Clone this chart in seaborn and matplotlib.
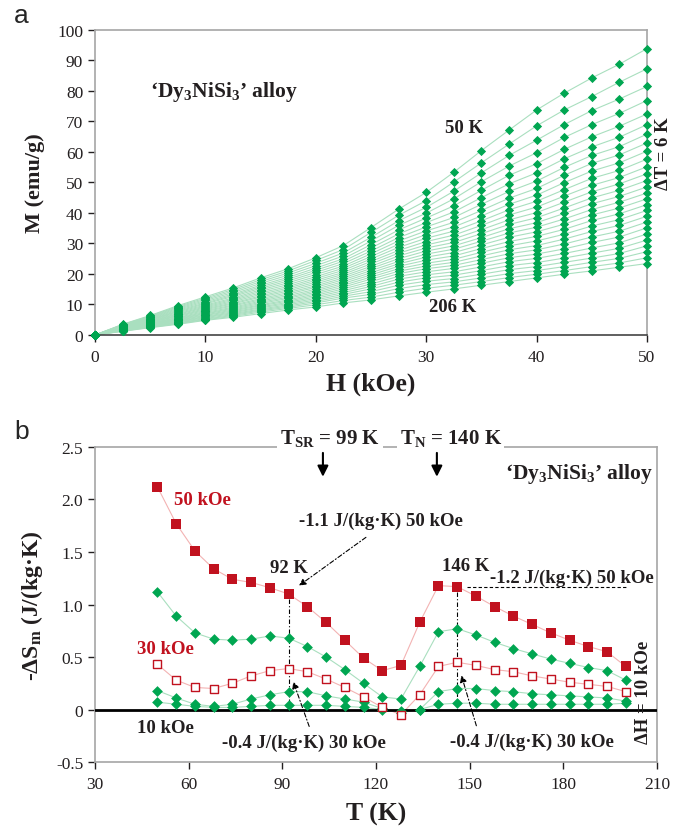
import pandas as pd
import matplotlib
matplotlib.use('Agg')
import matplotlib.pyplot as plt
import seaborn as sns

# (a) M(H) isotherms, 50 K (top) ... 206 K (bottom), step 6 K
field_koe = [0, 2.5, 5, 7.5, 10, 12.5, 15, 17.5, 20, 22.5, 25,
             27.5, 30, 32.5, 35, 37.5, 40, 42.5, 45, 47.5, 50]
temps_k = [50, 56, 62, 68, 74, 80, 86, 92, 98, 104, 110, 116, 122, 128,
           134, 140, 146, 152, 158, 164, 170, 176, 182, 188, 194, 200, 206]

# one list per field value, 27 isotherms ordered 50 K -> 206 K
m_columns = [
    [0] * 27,
    [3.5, 3.4, 3.3, 3.2, 3.1, 3.0, 2.9, 2.8, 2.7, 2.6, 2.5, 2.4, 2.3, 2.2,
     2.1, 2.0, 1.9, 1.8, 1.8, 1.7, 1.6, 1.5, 1.5, 1.4, 1.3, 1.3, 1.2],
    [6.4, 6.2, 6.0, 5.8, 5.6, 5.4, 5.2, 5.0, 4.9, 4.7, 4.5, 4.4, 4.2, 4.1,
     3.9, 3.8, 3.6, 3.5, 3.4, 3.3, 3.2, 3.0, 2.9, 2.8, 2.7, 2.5, 2.4],
    [9.6, 9.3, 9.0, 8.7, 8.4, 8.1, 7.8, 7.6, 7.3, 7.0, 6.8, 6.5, 6.3, 6.1,
     5.8, 5.6, 5.4, 5.2, 5.0, 4.8, 4.6, 4.4, 4.2, 4.0, 3.9, 3.7, 3.5],
    [12.5, 12.1, 11.7, 11.3, 10.9, 10.5, 10.2, 9.8, 9.5, 9.2, 8.9, 8.6, 8.3,
     8.0, 7.7, 7.4, 7.1, 6.9, 6.6, 6.4, 6.1, 5.9, 5.7, 5.4, 5.2, 5.0, 4.8],
    [15.4, 14.9, 14.4, 13.9, 13.4, 13.0, 12.6, 12.1, 11.7, 11.3, 10.9, 10.5,
     10.2, 9.8, 9.5, 9.1, 8.8, 8.5, 8.2, 7.9, 7.6, 7.3, 7.0, 6.7, 6.4, 6.1, 5.8],
    [18.7, 18.1, 17.5, 16.9, 16.3, 15.8, 15.3, 14.8, 14.3, 13.8, 13.3, 12.8,
     12.4, 11.9, 11.5, 11.1, 10.7, 10.3, 9.9, 9.6, 9.2, 8.9, 8.5, 8.2, 7.9, 7.5, 7.0],
    [21.7, 21.0, 20.3, 19.6, 18.9, 18.3, 17.7, 17.1, 16.5, 15.9, 15.4, 14.9,
     14.4, 13.9, 13.4, 12.9, 12.4, 12.0, 11.5, 11.1, 10.7, 10.3, 9.9, 9.5, 9.1, 8.7, 8.2],
    [25.3, 24.4, 23.5, 22.7, 21.9, 21.2, 20.5, 19.8, 19.1, 18.5, 17.9, 17.3,
     16.7, 16.1, 15.6, 15.0, 14.5, 14.0, 13.5, 13.0, 12.5, 12.0, 11.5, 11.0, 10.5, 9.9, 9.2],
    [29.3, 28.0, 26.9, 25.9, 25.0, 24.2, 23.4, 22.6, 21.9, 21.2, 20.5, 19.9,
     19.3, 18.7, 18.1, 17.5, 16.9, 16.3, 15.7, 15.1, 14.5, 13.9, 13.3, 12.7, 12.1, 11.3, 10.5],
    [35.2, 33.6, 32.0, 30.8, 29.6, 28.5, 27.5, 26.6, 25.7, 24.9, 24.1, 23.3,
     22.5, 21.8, 21.1, 20.4, 19.7, 19.0, 18.3, 17.5, 16.7, 15.9, 15.1, 14.2, 13.3, 12.4, 11.5],
    [41.2, 39.2, 37.4, 35.9, 34.4, 33.1, 31.9, 30.8, 29.7, 28.7, 27.7, 26.8,
     25.9, 25.0, 24.1, 23.3, 22.5, 21.7, 20.9, 20.1, 19.2, 18.3, 17.3, 16.3, 15.2, 14.0, 12.8],
    [46.7, 44.0, 41.8, 39.9, 38.3, 36.8, 35.4, 34.1, 32.9, 31.7, 30.6, 29.5,
     28.5, 27.5, 26.5, 25.5, 24.5, 23.5, 22.6, 21.7, 20.7, 19.7, 18.7, 17.6, 16.5, 15.3, 14.0],
    [53.3, 50.1, 47.1, 44.6, 42.3, 40.3, 38.5, 36.9, 35.4, 34.0, 32.7, 31.5,
     30.3, 29.2, 28.1, 27.0, 25.9, 24.8, 23.8, 22.8, 21.8, 20.7, 19.6, 18.5, 17.4, 16.3, 15.1],
    [60.4, 56.4, 53.1, 50.2, 47.4, 45.0, 42.8, 40.8, 39.0, 37.4, 35.9, 34.5,
     33.2, 31.9, 30.7, 29.5, 28.3, 27.1, 25.9, 24.7, 23.5, 22.3, 21.1, 19.9, 18.7, 17.5, 16.3],
    [67.1, 62.5, 58.8, 55.3, 52.3, 49.5, 47.0, 44.8, 42.8, 41.0, 39.3, 37.7,
     36.2, 34.8, 33.4, 32.0, 30.6, 29.2, 27.9, 26.6, 25.3, 24.0, 22.7, 21.4, 20.1, 18.8, 17.5],
    [73.7, 68.5, 63.8, 59.7, 56.1, 53.1, 50.4, 48.0, 45.8, 43.8, 41.9, 40.1,
     38.4, 36.8, 35.3, 33.8, 32.3, 30.8, 29.3, 27.9, 26.5, 25.1, 23.7, 22.4, 21.1, 19.9, 18.7],
    [79.2, 73.7, 68.9, 64.7, 60.8, 57.7, 54.9, 52.3, 49.9, 47.6, 45.5, 43.5,
     41.6, 39.8, 38.0, 36.3, 34.6, 33.0, 31.4, 29.8, 28.2, 26.7, 25.2, 23.8, 22.4, 21.1, 19.9],
    [84.2, 78.1, 73.5, 68.9, 64.9, 61.6, 58.8, 56.2, 53.7, 51.3, 49.0, 46.9,
     44.9, 43.0, 41.1, 39.3, 37.5, 35.7, 33.9, 32.1, 30.3, 28.5, 26.8, 25.2, 23.8, 22.4, 21.0],
    [88.7, 82.8, 77.3, 72.6, 68.4, 64.8, 61.7, 59.0, 56.4, 53.9, 51.6, 49.5,
     47.4, 45.4, 43.5, 41.6, 39.7, 37.8, 35.9, 34.0, 32.1, 30.2, 28.4, 26.7, 25.1, 23.6, 22.2],
    [93.8, 87.2, 81.4, 76.8, 72.4, 68.9, 65.8, 62.9, 60.2, 57.6, 55.1, 52.8,
     50.6, 48.5, 46.5, 44.6, 42.7, 40.8, 38.9, 37.0, 35.1, 33.1, 31.1, 29.2, 27.3, 25.3, 23.4],
]

# (b) -dS_m(T) for field changes 10..50 kOe
temps_b = [50, 56, 62, 68, 74, 80, 86, 92, 98, 104, 110, 116, 122,
           128, 134, 140, 146, 152, 158, 164, 170, 176, 182, 188, 194, 200]
ds_50 = [2.12, 1.77, 1.51, 1.34, 1.24, 1.21, 1.16, 1.10, 0.98, 0.83, 0.66, 0.49, 0.37,
         0.42, 0.83, 1.18, 1.17, 1.08, 0.98, 0.89, 0.81, 0.73, 0.66, 0.60, 0.55, 0.41]
ds_40 = [1.12, 0.89, 0.73, 0.67, 0.66, 0.67, 0.70, 0.68, 0.60, 0.50, 0.38, 0.25, 0.12,
         0.10, 0.41, 0.74, 0.77, 0.71, 0.64, 0.58, 0.53, 0.48, 0.44, 0.40, 0.37, 0.28]
ds_30 = [0.43, 0.28, 0.21, 0.20, 0.25, 0.32, 0.37, 0.39, 0.36, 0.29, 0.21, 0.12, 0.02,
         -0.05, 0.14, 0.41, 0.45, 0.42, 0.38, 0.36, 0.32, 0.29, 0.26, 0.24, 0.22, 0.17]
ds_20 = [0.18, 0.11, 0.05, 0.03, 0.05, 0.10, 0.14, 0.17, 0.17, 0.13, 0.10, 0.07, 0.01,
         -0.03, 0.00, 0.17, 0.20, 0.20, 0.18, 0.17, 0.15, 0.14, 0.13, 0.12, 0.11, 0.08]
ds_10 = [0.07, 0.05, 0.03, 0.02, 0.02, 0.03, 0.04, 0.04, 0.04, 0.04, 0.03, 0.02, 0.00,
         -0.01, 0.00, 0.05, 0.06, 0.06, 0.05, 0.05, 0.05, 0.05, 0.05, 0.05, 0.05, 0.06]

GREEN = '#00a651'
GREEN_LINE = '#a9dfbf'
RED = '#c1121f'
RED_LINE = '#f3b3b3'
SPINE = '#a6a6a6'
INK = '#231f20'

sns.set_theme(style='ticks')
plt.rcParams['font.family'] = ['Liberation Serif', 'DejaVu Serif']
plt.rcParams['mathtext.fontset'] = 'custom'
plt.rcParams['mathtext.rm'] = 'Liberation Serif:bold'
plt.rcParams['mathtext.it'] = 'Liberation Serif:bold'
plt.rcParams['mathtext.bf'] = 'Liberation Serif:bold'
plt.rcParams['mathtext.default'] = 'rm'

fig = plt.figure(figsize=(6.84, 8.29), dpi=100)
ax_a = fig.add_axes([0.1389, 0.5947, 0.8070, 0.3683])
ax_b = fig.add_axes([0.1389, 0.0796, 0.8216, 0.3800])

# ---- panel a
rows = []
for h, col in zip(field_koe, m_columns):
    for t, m in zip(temps_k, col):
        rows.append((h, t, m))
df_a = pd.DataFrame(rows, columns=['H', 'T', 'M'])

sns.lineplot(data=df_a, x='H', y='M', hue='T', palette=[GREEN_LINE] * len(temps_k),
             legend=False, lw=0.8, ax=ax_a, zorder=2)
sns.scatterplot(data=df_a, x='H', y='M', marker='D', color=GREEN, s=22,
                linewidth=0, legend=False, ax=ax_a, zorder=3, clip_on=False)

ax_a.set_xlim(0, 50)
ax_a.set_ylim(0, 100)
ax_a.set_xticks(range(0, 51, 10))
ax_a.set_yticks(range(0, 101, 10))
ax_a.set_xlabel('H (kOe)', fontsize=18.5, fontweight='bold', labelpad=5)
ax_a.set_ylabel('M (emu/g)', fontsize=16, fontweight='bold', labelpad=9)

bold = dict(fontweight='bold', color=INK)
ax_a.text(11.7, 80, '‘Dy$_3$NiSi$_3$’ alloy', fontsize=15.5, ha='center', va='center', **bold)
ax_a.text(33.4, 68, '50 K', fontsize=13.5, ha='center', va='center', **bold)
ax_a.text(32.4, 9.4, '206 K', fontsize=13.5, ha='center', va='center', **bold)
ax_a.text(51.5, 59.6, 'ΔT = 6 K', fontsize=13.5, rotation=90, ha='center', va='center',
          clip_on=False, **bold)

# ---- panel b
df_b = pd.DataFrame({'T': temps_b, '50 kOe': ds_50, '40 kOe': ds_40, '30 kOe': ds_30,
                     '20 kOe': ds_20, '10 kOe': ds_10})
series = [('10 kOe', GREEN_LINE, 'D', GREEN, GREEN, 30),
          ('20 kOe', GREEN_LINE, 'D', GREEN, GREEN, 30),
          ('40 kOe', GREEN_LINE, 'D', GREEN, GREEN, 30),
          ('30 kOe', RED_LINE, 's', 'white', RED, 36),
          ('50 kOe', RED_LINE, 's', RED, RED, 44)]
for name, lc, mk, fc, ec, size in series:
    sns.lineplot(data=df_b, x='T', y=name, color=lc, lw=0.8, ax=ax_b, zorder=2)
    sns.scatterplot(data=df_b, x='T', y=name, marker=mk, s=size, facecolor=fc,
                    edgecolor=ec, linewidth=1.0 if fc == 'white' else 0,
                    ax=ax_b, zorder=4)

ax_b.axhline(0, color='black', lw=2, zorder=3)
ax_b.set_xlim(30, 210)
ax_b.set_ylim(-0.5, 2.5)
ax_b.set_xticks(range(30, 211, 30))
ax_b.set_yticks([-0.5, 0, 0.5, 1.0, 1.5, 2.0, 2.5])
ax_b.set_yticklabels(['-0.5', '0', '0.5', '1.0', '1.5', '2.0', '2.5'])
ax_b.set_xlabel('T (K)', fontsize=18.5, fontweight='bold', labelpad=7)
ax_b.set_ylabel('-ΔS$_m$ (J/(kg·K)', fontsize=17, fontweight='bold', labelpad=8)

ax_b.text(64.4, 2.0, '50 kOe', fontsize=13.5, ha='center', va='center',
          fontweight='bold', color=RED)
ax_b.text(52.7, 0.58, '30 kOe', fontsize=13.5, ha='center', va='center',
          fontweight='bold', color=RED)
ax_b.text(52.4, -0.17, '10 kOe', fontsize=13.5, ha='center', va='center', **bold)
ax_b.text(121.6, 1.80, '-1.1 J/(kg·K) 50 kOe', fontsize=13.5, ha='center', va='center', **bold)
ax_b.text(92.1, 1.35, '92 K', fontsize=13.5, ha='center', va='center', **bold)
ax_b.text(148.8, 1.37, '146 K', fontsize=13.5, ha='center', va='center', **bold)
ax_b.text(182.8, 1.26, '-1.2 J/(kg·K) 50 kOe', fontsize=13.5, ha='center', va='center', **bold)
ax_b.text(96.8, -0.31, '-0.4 J/(kg·K) 30 kOe', fontsize=13.5, ha='center', va='center', **bold)
ax_b.text(170.1, -0.30, '-0.4 J/(kg·K) 30 kOe', fontsize=13.5, ha='center', va='center', **bold)
ax_b.text(205.8, 0.17, 'ΔH = 10 kOe', fontsize=13.5, rotation=90, ha='center', va='center',
          clip_on=False, **bold)
ax_b.text(184.9, 2.25, '‘Dy$_3$NiSi$_3$’ alloy', fontsize=15.5, ha='center', va='center', **bold)

box = dict(facecolor='white', edgecolor='none', pad=2)
ax_b.text(105.3, 2.595, 'T$_{SR}$ = 99 K', fontsize=15, ha='center', va='center',
          bbox=box, clip_on=False, zorder=6, **bold)
ax_b.text(143.9, 2.595, 'T$_N$ = 140 K', fontsize=15, ha='center', va='center',
          bbox=box, clip_on=False, zorder=6, **bold)
for tx in (103, 139.5):
    ax_b.annotate('', xy=(tx, 2.19), xytext=(tx, 2.47),
                  arrowprops=dict(arrowstyle='-|>', color='black', lw=1.5, mutation_scale=16))

dashdot = dict(arrowstyle='-|>', color='black', lw=0.8, linestyle=(0, (4, 2, 1, 2)),
               mutation_scale=10)
ax_b.annotate('', xy=(94.6, 1.164), xytext=(117.5, 1.655), arrowprops=dashdot)
ax_b.annotate('', xy=(93.2, 0.29), xytext=(98.9, -0.186), arrowprops=dashdot)
ax_b.annotate('', xy=(147.1, 0.35), xytext=(152.4, -0.18), arrowprops=dashdot)
ax_b.plot([92, 92], [1.05, 0], color='black', lw=0.8, ls=(0, (4, 2, 1, 2)), zorder=3)
ax_b.plot([146, 146], [1.12, 0], color='black', lw=0.8, ls=(0, (4, 2, 1, 2)), zorder=3)
ax_b.plot([149, 200.7], [1.17, 1.17], color='black', lw=0.8, ls=(0, (3, 2)), zorder=3)

for ax in (ax_a, ax_b):
    for side in ('top', 'right', 'left', 'bottom'):
        ax.spines[side].set_visible(True)
        ax.spines[side].set_color(SPINE)
        ax.spines[side].set_linewidth(1.2)
    ax.tick_params(axis='both', direction='out', length=5, width=1, color=INK,
                   labelsize=12.5, labelcolor=INK)
    ax.tick_params(axis='x', pad=5)
    ax.xaxis.label.set_color(INK)
    ax.yaxis.label.set_color(INK)
ax_a.spines['bottom'].set_color('#444444')

fig.text(14 / 684, 1 - 16 / 829, 'a', fontsize=19, family='Liberation Sans', va='center')
fig.text(14 / 684, 1 - 432 / 829, 'b', fontsize=19, family='Liberation Sans', va='center')

fig.savefig('out.png', dpi=100, facecolor='white')
